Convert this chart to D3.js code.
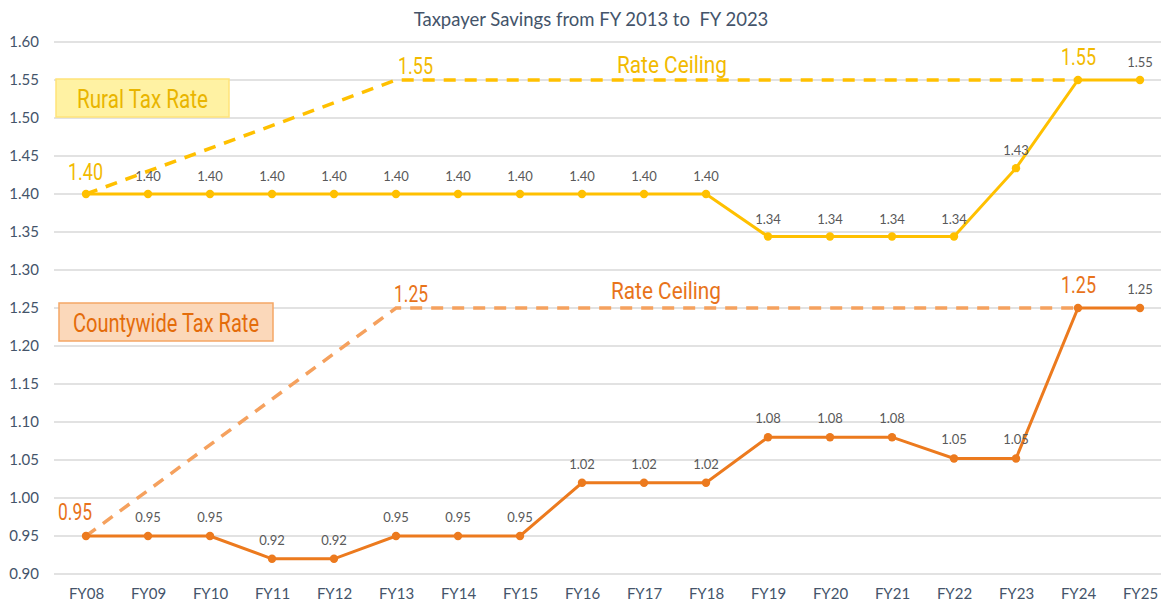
<!DOCTYPE html>
<html>
<head>
<meta charset="utf-8">
<script src="https://cdn.jsdelivr.net/npm/d3@7"></script>
<style>
  body { margin: 0; background: #fff; }
  svg { display: block; font-family: Lato, "Open Sans", sans-serif; }
  .narrow { font-family: Roboto, "DejaVu Sans", sans-serif; font-weight: 400; }
</style>
</head>
<body>
<div id="chart-container"></div>
<script>
// chart size
const width = 1161;
const height = 604;

// data
const years = ["FY08", "FY09", "FY10", "FY11", "FY12", "FY13", "FY14", "FY15", "FY16",
  "FY17", "FY18", "FY19", "FY20", "FY21", "FY22", "FY23", "FY24", "FY25"];
const ruralRate = [1.40, 1.40, 1.40, 1.40, 1.40, 1.40, 1.40, 1.40, 1.40, 1.40, 1.40,
  1.344, 1.344, 1.344, 1.344, 1.434, 1.55, 1.55];
const countyRate = [0.95, 0.95, 0.95, 0.92, 0.92, 0.95, 0.95, 0.95, 1.02, 1.02, 1.02,
  1.08, 1.08, 1.08, 1.052, 1.052, 1.25, 1.25];
const ceilingYears = ["FY08", "FY13", "FY24"];
const ruralCeiling = [1.40, 1.55, 1.55];
const countyCeiling = [0.95, 1.25, 1.25];
const yTicks = [0.90, 0.95, 1.00, 1.05, 1.10, 1.15, 1.20, 1.25, 1.30, 1.35, 1.40, 1.45, 1.50, 1.55, 1.60];

const gold = "#FFC000";
const orange = "#EC7A1E";
const lightOrange = "#F5A15E";

const svg = d3.select("#chart-container")
  .append("svg")
  .attr("width", width)
  .attr("height", height);

const x = d3.scalePoint().domain(years).range([86, 1140]);
const y = d3.scaleLinear().domain([0.9, 1.6]).range([574, 42]);

// title
svg.append("text")
  .attr("x", 591)
  .attr("y", 26)
  .attr("text-anchor", "middle")
  .style("white-space", "pre")
  .style("font-size", "18.5px")
  .attr("fill", "#44546A")
  .text("Taxpayer Savings from FY 2013 to  FY 2023");

// gridlines
svg.append("g")
  .selectAll("line")
  .data(yTicks)
  .join("line")
  .attr("x1", 54)
  .attr("x2", width)
  .attr("y1", d => y(d))
  .attr("y2", d => y(d))
  .attr("stroke", "#D9D9D9")
  .attr("stroke-width", 1.5);

// y axis
const yAxis = svg.append("g")
  .attr("transform", "translate(39,0)")
  .call(d3.axisLeft(y).tickValues(yTicks).tickFormat(d3.format(".2f")).tickSize(0).tickPadding(0));
yAxis.select(".domain").remove();
yAxis.selectAll("text")
  .style("font-size", "15px")
  .style("font-family", "Lato, sans-serif")
  .attr("fill", "#44546A");

// x axis
const xAxis = svg.append("g")
  .attr("transform", "translate(0,588)")
  .call(d3.axisBottom(x).tickSize(0).tickPadding(0));
xAxis.select(".domain").remove();
xAxis.selectAll("text")
  .style("font-size", "15px")
  .style("font-family", "Lato, sans-serif")
  .attr("fill", "#44546A");

// ceiling lines (dashed)
const ceilLine = d3.line().x(d => x(d[0])).y(d => y(d[1]));
svg.append("path")
  .attr("d", ceilLine(d3.zip(ceilingYears, ruralCeiling)))
  .attr("fill", "none")
  .attr("stroke", gold)
  .attr("stroke-width", 3.5)
  .attr("stroke-dasharray", "12,9");
svg.append("path")
  .attr("d", ceilLine(d3.zip(ceilingYears, countyCeiling)))
  .attr("fill", "none")
  .attr("stroke", lightOrange)
  .attr("stroke-width", 3.5)
  .attr("stroke-dasharray", "12,9");

// rate lines with markers and labels
function drawSeries(values, color, labelOffset) {
  const pts = d3.zip(years, values);
  svg.append("path")
    .attr("d", d3.line().x(d => x(d[0])).y(d => y(d[1]))(pts))
    .attr("fill", "none")
    .attr("stroke", color)
    .attr("stroke-width", 3);
  svg.append("g")
    .selectAll("circle")
    .data(pts)
    .join("circle")
    .attr("cx", d => x(d[0]))
    .attr("cy", d => y(d[1]))
    .attr("r", 4.2)
    .attr("fill", color);
  svg.append("g")
    .selectAll("text")
    .data(pts.filter(d => d[0] !== "FY08" && d[0] !== "FY24"))
    .join("text")
    .attr("x", d => x(d[0]))
    .attr("y", d => y(d[1]) - labelOffset)
    .attr("text-anchor", "middle")
    .style("font-size", "13px")
    .attr("fill", "#595959")
    .text(d => d3.format(".2f")(d[1]));
}
drawSeries(ruralRate, gold, 13);
drawSeries(countyRate, orange, 14);

// big annotations, squeezed to a condensed look
function bigLabel(xLeft, yPos, txt, color, w, size) {
  svg.append("text")
    .attr("class", "narrow")
    .attr("x", xLeft)
    .attr("y", yPos)
    .attr("textLength", w)
    .attr("lengthAdjust", "spacingAndGlyphs")
    .style("font-size", (size || 24) + "px")
    .attr("fill", color)
    .text(txt);
}
const ruralTxt = "#F2BA00";
const countyTxt = "#E8731A";
bigLabel(x("FY08") - 18, y(ruralRate[0]) - 14, d3.format(".2f")(ruralRate[0]), ruralTxt, 35);
bigLabel(x("FY13") + 2, y(ruralCeiling[1]) - 6, d3.format(".2f")(ruralCeiling[1]), ruralTxt, 35);
bigLabel(x("FY24") - 17, y(ruralRate[16]) - 15, d3.format(".2f")(ruralRate[16]), ruralTxt, 35);
bigLabel(617, y(ruralCeiling[1]) - 7, "Rate Ceiling", ruralTxt, 110);
bigLabel(x("FY08") - 28, y(countyRate[0]) - 16, d3.format(".2f")(countyRate[0]), countyTxt, 34);
bigLabel(x("FY13") - 2, y(countyCeiling[1]) - 6, d3.format(".2f")(countyCeiling[1]), countyTxt, 34);
bigLabel(x("FY24") - 17, y(countyRate[16]) - 15, d3.format(".2f")(countyRate[16]), countyTxt, 35);
bigLabel(611, y(countyCeiling[1]) - 9, "Rate Ceiling", countyTxt, 110);

// legend boxes
svg.append("rect")
  .attr("x", 56).attr("y", 79).attr("width", 173).attr("height", 38)
  .attr("fill", "#FFF2A3").attr("stroke", "#FFE37A").attr("stroke-width", 1.5);
bigLabel(77, 108, "Rural Tax Rate", "#E9B500", 131, 26);

svg.append("rect")
  .attr("x", 59).attr("y", 303).attr("width", 214).attr("height", 38)
  .attr("fill", "#FBD8BA").attr("stroke", "#F5A765").attr("stroke-width", 1.5);
bigLabel(73, 332, "Countywide Tax Rate", "#E46C0A", 186, 26);
</script>
</body>
</html>
